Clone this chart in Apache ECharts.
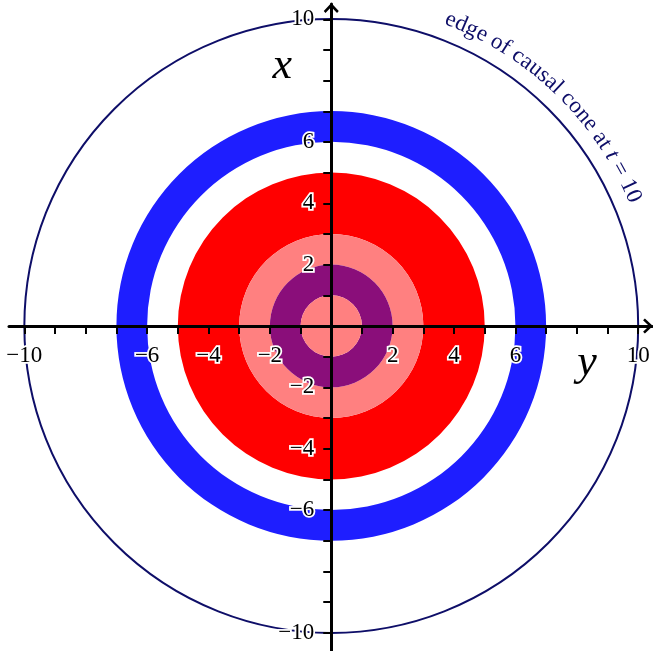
<!DOCTYPE html>
<html>
<head>
<meta charset="utf-8">
<title>causal cone</title>
<script src="https://cdn.jsdelivr.net/npm/echarts@6/dist/echarts.min.js"></script>
<style>
  html, body { margin: 0; padding: 0; background: #fff; }
  #main { width: 653px; height: 651px; }
</style>
</head>
<body>
<div id="main"></div>
<script>
// rings, from the outside in (radius in axis units)
var ringInner = [6, 3, 2, 1, 0];
var ringOuter = [7, 5, 3, 2, 1];
var ringColors = ['#1e1eff', '#ff0000', '#ff8080', '#8a0e7a', '#ff8080'];

// edge of the causal cone
var coneRadius = 10;
var coneLabel = ['edge of causal cone at ', 't', ' = 10'];

// ticks and labels
var tickValues = [-10, -9, -8, -7, -6, -5, -4, -3, -2, -1, 0, 1, 2, 3, 4, 5, 6, 7, 8, 9, 10];
var labelValues = [-10, -6, -4, -2, 2, 4, 6, 10];

// axis names (horizontal axis is y, vertical axis is x)
var axisNames = ['x', 'y'];
var axisNameX = [-1.6, 8.33];
var axisNameY = [8.45, -1.22];

var serif = '"Liberation Serif", "DejaVu Serif", serif';
var navy = '#0e0e68';
var arrowPath = 'path://M7,0 L14,7.5 L12.4,9.2 L7,3.6 L1.6,9.2 L0,7.5 Z';

var chart = echarts.init(document.getElementById('main'));

function fmt(v) {
  return v < 0 ? '\u2212' + (-v) : '' + v;
}

function renderRing(params, api) {
  var c = api.coord([0, 0]);
  var r0 = api.size([api.value(0), 0])[0];
  var r = api.size([api.value(1), 0])[0];
  return {
    type: 'ring',
    shape: { cx: c[0], cy: c[1], r: r, r0: r0 },
    style: { fill: ringColors[params.dataIndex] }
  };
}

function renderCone(params, api) {
  var c = api.coord([0, 0]);
  var r = api.size([api.value(1), 0])[0];
  return {
    type: 'circle',
    shape: { cx: c[0], cy: c[1], r: r },
    style: { fill: 'none', stroke: navy, lineWidth: 2 }
  };
}

// the label runs along the circle, one letter at a time
function renderConeText(params, api) {
  var c = api.coord([0, 0]);
  var R = api.size([10.7, 0])[0];
  var a0 = 20.4 * Math.PI / 180, a1 = 67.8 * Math.PI / 180;
  var ctx = document.createElement('canvas').getContext('2d');
  var chars = [];
  var total = 0;
  coneLabel.forEach(function (seg, i) {
    var style = i == 1 ? 'italic' : 'normal';
    ctx.font = style + ' 23px ' + serif;
    seg.split('').forEach(function (ch) {
      var w = ctx.measureText(ch).width;
      chars.push({ ch: ch, style: style, w: w });
      total += w;
    });
  });
  var k = (a1 - a0) / total;
  var pos = 0;
  var children = [];
  chars.forEach(function (d) {
    var a = a0 + (pos + d.w / 2) * k;
    pos += d.w;
    if (d.ch == ' ') return;
    children.push({
      type: 'text',
      x: c[0] + R * Math.sin(a),
      y: c[1] - R * Math.cos(a),
      rotation: -a,
      style: {
        text: d.ch,
        fontSize: 23,
        fontFamily: serif,
        fontStyle: d.style,
        fill: navy,
        align: 'center',
        verticalAlign: 'middle'
      }
    });
  });
  return { type: 'group', children: children };
}

function renderName(params, api) {
  var p = api.coord([api.value(0), api.value(1)]);
  return {
    type: 'text',
    x: p[0],
    y: p[1],
    style: {
      text: axisNames[params.dataIndex],
      fontSize: 44,
      fontFamily: serif,
      fontStyle: 'italic',
      fill: '#000',
      align: 'center',
      verticalAlign: 'middle'
    }
  };
}

// tick labels with a white halo, on both axes
function renderTickLabel(params, api) {
  var v = api.value(0);
  var px = api.coord([v, 0]);
  var py = api.coord([0, v]);
  var base = {
    fontSize: 23,
    fontFamily: serif,
    fill: '#000',
    stroke: '#fff',
    lineWidth: 3.5
  };
  return {
    type: 'group',
    children: [
      {
        type: 'text',
        x: px[0],
        y: px[1] + 18,
        style: echarts.util.extend({ text: fmt(v), align: 'center', verticalAlign: 'top' }, base)
      },
      {
        type: 'text',
        x: py[0] - 17,
        y: py[1],
        style: echarts.util.extend({ text: fmt(v), align: 'right', verticalAlign: 'middle' }, base)
      }
    ]
  };
}

function axisOption(min, max) {
  return {
    type: 'value',
    min: min,
    max: max,
    z: 10,
    axisLine: {
      show: true,
      onZero: true,
      symbol: ['none', arrowPath],
      symbolSize: [15, 10],
      symbolOffset: [0, -4],
      lineStyle: { color: '#000', width: 3 }
    },
    axisTick: {
      show: true,
      customValues: tickValues,
      length: 8,
      lineStyle: { color: '#000', width: 2 }
    },
    axisLabel: { show: false },
    splitLine: { show: false }
  };
}

var option = {
  animation: false,
  backgroundColor: '#fff',
  grid: {
    left: 9,
    right: 1,
    top: 4,
    bottom: 0,
    containLabel: false,
    outerBoundsMode: 'none'
  },
  xAxis: axisOption(-10.5, 10.45),
  yAxis: axisOption(-10.6, 10.5),
  series: [
    {
      type: 'custom',
      renderItem: renderRing,
      data: ringOuter.map(function (r, i) { return [ringInner[i], r]; }),
      silent: true,
      z: 2
    },
    {
      type: 'custom',
      renderItem: renderCone,
      data: [[0, coneRadius]],
      silent: true,
      z: 3
    },
    {
      type: 'custom',
      renderItem: renderConeText,
      data: [[0, coneRadius]],
      silent: true,
      z: 3
    },
    {
      type: 'custom',
      renderItem: renderName,
      data: axisNameX.map(function (x, i) { return [x, axisNameY[i]]; }),
      silent: true,
      z: 3
    },
    {
      type: 'custom',
      renderItem: renderTickLabel,
      data: labelValues.map(function (v) { return [v, 0]; }),
      silent: true,
      z: 20
    }
  ]
};

chart.setOption(option);
</script>
</body>
</html>
